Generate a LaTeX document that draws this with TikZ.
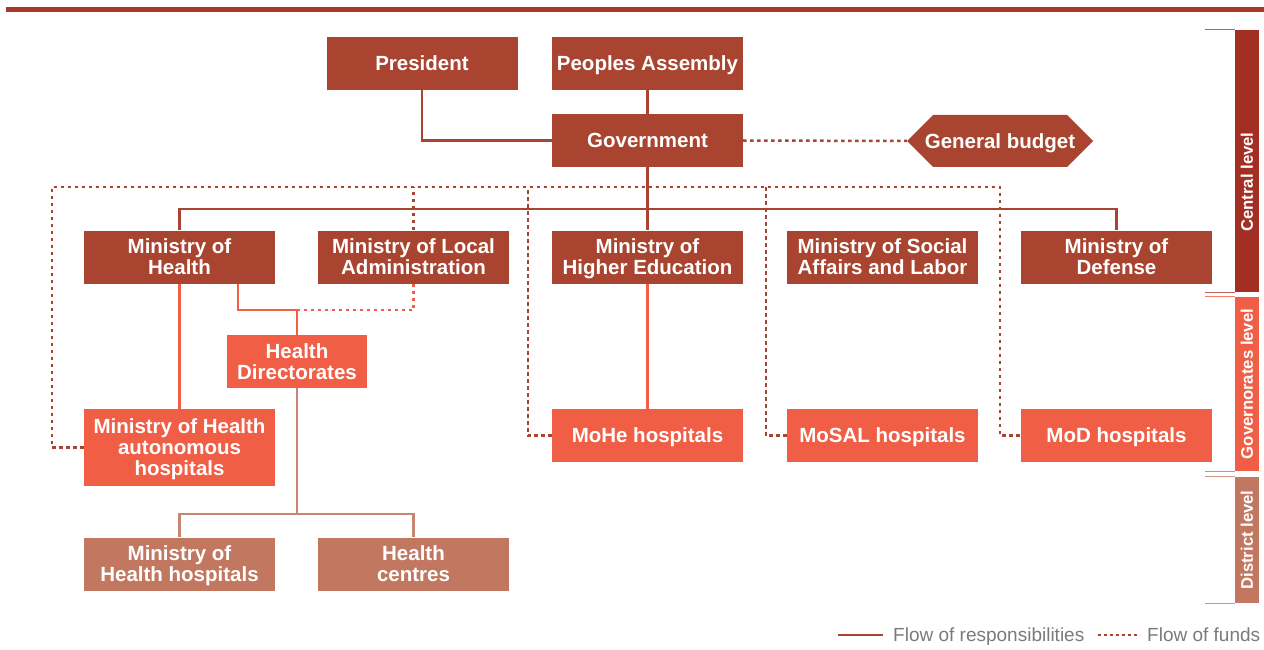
\documentclass[tikz,border=0pt]{standalone}
\usepackage{fontspec}
\setmainfont{Liberation Sans}
\definecolor{darkbox}{HTML}{A94430}
\definecolor{coral}{HTML}{F05E46}
\definecolor{clay}{HTML}{C27860}
\definecolor{centralbar}{HTML}{A22E24}
\definecolor{topbar}{HTML}{A6382C}
\definecolor{legendgray}{HTML}{7A7A7A}

\begin{document}
\begin{tikzpicture}[x=1pt,y=-1pt,
  boxtext/.style={text=white, align=center, text depth=0pt, font=\fontsize{20.5}{21}\selectfont\bfseries},
  box/.style={rectangle, inner sep=0pt, minimum width=191pt, minimum height=53pt, boxtext},
  central/.style={box, fill=darkbox},
  gover/.style={box, fill=coral},
  district/.style={box, fill=clay},
  resp/.style={draw=darkbox, line width=2.2pt},
  respc/.style={draw=coral, line width=2.2pt},
  respd/.style={draw=clay!90!white, line width=2.2pt},
  funds/.style={draw=darkbox, line width=2.5pt, dash pattern=on 3.5pt off 3.5pt},
  fundsc/.style={draw=coral, line width=2.5pt, dash pattern=on 3.5pt off 3.5pt},
  levelbar/.style={rectangle, inner sep=0pt, minimum width=24pt},
  leveltext/.style={rotate=90, text=white, inner sep=0pt, font=\fontsize{16.7}{17}\selectfont\bfseries},
  bracket/.style={line width=1.3pt},
  legendtext/.style={anchor=base west, inner sep=0pt, text=legendgray, font=\fontsize{19}{20}\selectfont}
]
\useasboundingbox (0,0) rectangle (1264,650);

% heading rule
\fill[topbar] (6,7) rectangle (1264,12);

% central level
\node[central] (pres)  at (422,63.5)   {President};
\node[central] (pa)    at (647.5,63.5) {Peoples Assembly};
\node[central] (gov)   at (647.5,140.5) {Government};

% budget tag: pointed at both ends
\fill[darkbox] (907,141) -- (933,115) -- (1067,115) -- (1093,141) -- (1067,167) -- (933,167) -- cycle;
\node[box, minimum width=186pt, minimum height=52pt] (gb) at (1000,141) {General budget};

\node[central] (moh)   at (179.5,257)  {Ministry of\\Health};
\node[central] (mola)  at (413.5,257)  {Ministry of Local\\Administration};
\node[central] (mohe)  at (647.5,257)  {Ministry of\\Higher Education};
\node[central] (mosal) at (882.5,257)  {Ministry of Social\\Affairs and Labor};
\node[central] (mod)   at (1116.5,257) {Ministry of\\Defense};

% governorates level
\node[gover, minimum width=140pt] (hd) at (297,361.5) {Health\\Directorates};
\node[gover, minimum height=77pt] (mohauto) at (179.5,447.5) {Ministry of Health\\autonomous\\hospitals};
\node[gover] (moheh)  at (647.5,435.5)  {MoHe hospitals};
\node[gover] (mosalh) at (882.5,435.5)  {MoSAL hospitals};
\node[gover] (modh)   at (1116.5,435.5) {MoD hospitals};

% district level
\node[district] (mohh) at (179.5,564) {Ministry of\\Health hospitals};
\node[district] (hc)   at (413.5,564) {Health\\centres};

% flow of funds
\coordinate (fl) at (52,187);
\coordinate (fr) at (1000,187);
\draw[funds] (mohauto.west) -| (fl) -- (fr) |- (modh.west);
\draw[funds] (mola.north) -- (mola.north |- fl);
\draw[funds] (moheh.west) -- ++(-24,0) coordinate (d1) -- (d1 |- fl);
\draw[funds] (mosalh.west) -- ++(-21,0) coordinate (d2) -- (d2 |- fl);
\draw[funds] (gov.east) -- (gb.west);
\draw[fundsc] (mola.south) -- ++(0,26.5) coordinate (j) -- (j -| hd.north);

% flow of responsibilities
\draw[resp] (pres.south) |- (gov.west);
\draw[resp] (pa.south) -- (gov.north);
\draw[resp] (gov.south) -- (mohe.north);
\draw[resp] (moh.north) -- ++(0,-21) -| (mod.north);
\draw[respc] (moh.south) -- (mohauto.north);
\draw[respc] ([xshift=58.5pt]moh.south) -- ++(0,26.5) -| (hd.north);
\draw[respc] (mohe.south) -- (moheh.north);
\draw[respd] (hd.south) -- ++(0,126) coordinate (k);
\draw[respd] (mohh.north) |- (k) -| (hc.north);

% level markers
\node[levelbar, fill=centralbar, minimum height=262pt] (cbar) at (1247,161) {};
\node[levelbar, fill=coral, minimum height=174pt] (gbar) at (1247,384) {};
\node[levelbar, fill=clay, minimum height=126pt] (dbar) at (1247,540) {};
\node[leveltext] (ctext) at (1247,182) {Central level};
\node[leveltext] (gtext) at (1247,384) {Governorates level};
\node[leveltext] (dtext) at (1247,540) {District level};
\draw[bracket, centralbar!75!white] (cbar.north west) -- ++(-30,0);
\draw[bracket, centralbar!75!white] (cbar.south west) -- ++(-30,0);
\draw[bracket, coral!80!white] (gbar.north west) -- ++(-30,0);
\draw[bracket, coral!80!white] (gbar.south west) -- ++(-30,0);
\draw[bracket, clay!80!white] (dbar.north west) -- ++(-30,0);
\draw[bracket, clay!80!white] (dbar.south west) -- ++(-30,0);

% legend
\coordinate (la) at (838,635);
\coordinate (lb) at (883,635);
\coordinate (lc) at (1098,635);
\coordinate (ld) at (1140,635);
\draw[resp, line width=2pt] (la) -- (lb);
\node[legendtext] (lresp) at (893,641.5) {Flow of responsibilities};
\draw[funds, line width=1.8pt, dash pattern=on 3pt off 3pt] (lc) -- (ld);
\node[legendtext] (lfund) at (1147,641.5) {Flow of funds};
\end{tikzpicture}
\end{document}
